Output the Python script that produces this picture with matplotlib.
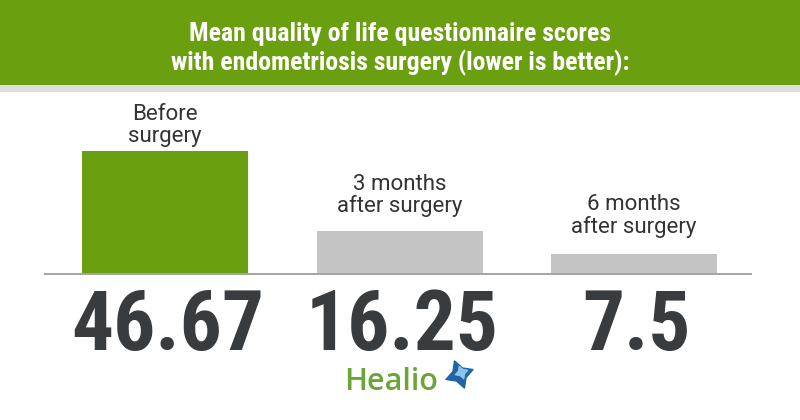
import matplotlib
matplotlib.use('Agg')
import matplotlib.pyplot as plt
from matplotlib.patches import Rectangle

# data
stages = ['Before\nsurgery', '3 months\nafter surgery', '6 months\nafter surgery']
scores = [46.67, 16.25, 7.5]
score_labels = ['46.67', '16.25', '7.5']
bar_colors = ['#6a9f10', '#c4c4c4', '#c4c4c4']
title = 'Mean quality of life questionnaire scores\nwith endometriosis surgery (lower is better):'

green = '#6a9f10'
dark = '#383c3e'
cond = ['Roboto Condensed', 'Asap Condensed', 'DejaVu Sans']

W, H = 800, 420
fig = plt.figure(figsize=(8, 4.2), dpi=100)

# background layer in pixel coords (header band, logo)
bg = fig.add_axes([0, 0, 1, 1])
bg.set_xlim(0, W)
bg.set_ylim(H, 0)
bg.axis('off')
bg.add_patch(Rectangle((0, 0), W, 85, color=green, lw=0))
bg.add_patch(Rectangle((0, 85), W, 7, color='#dedede', lw=0))
bg.text(400, 49, title, ha='center', va='center', color='white',
        fontsize=18.5, fontweight='bold', family=cond, linespacing=1.2)

# logo
bg.text(344, 390, 'Healio', ha='left', va='baseline', color='#6aa536',
        fontsize=22, fontweight='semibold', family='Open Sans')
bg.scatter([459], [374], marker=(4, 1, 20), s=430, color='#1f64a4', zorder=3)
bg.scatter([461], [372], marker=(4, 1, 20), s=90, color='#8cc4ec', zorder=4)

# bars
base = 274
scale = 2.636  # px per score unit
ax = fig.add_axes([45 / W, (H - base) / H, 706 / W, (base - 92) / H])
ax.set_xlim(-0.512, 2.499)
ax.set_ylim(0, (base - 92) / scale)
x = list(range(len(scores)))
ax.bar(x, scores, width=0.708, color=bar_colors, zorder=2)
for s in ['top', 'left', 'right']:
    ax.spines[s].set_visible(False)
ax.spines['bottom'].set_color('#a3a3a3')
ax.spines['bottom'].set_linewidth(1.4)
ax.set_xticks([])
ax.set_yticks([])
ax.patch.set_alpha(0)

pads = [3, 10, 12]
for i, (lab, v) in enumerate(zip(stages, scores)):
    ax.annotate(lab, (i, v), xytext=(0, pads[i]), textcoords='offset points',
                ha='center', va='bottom', fontsize=16, color='#333333',
                family='Roboto', linespacing=1.02)
    ax.annotate(score_labels[i], (i, 0), xytext=(2, -55), textcoords='offset points',
                ha='center', va='baseline', fontsize=60, fontweight='bold',
                color=dark, family=cond, annotation_clip=False)

fig.savefig('out.png', dpi=100)
